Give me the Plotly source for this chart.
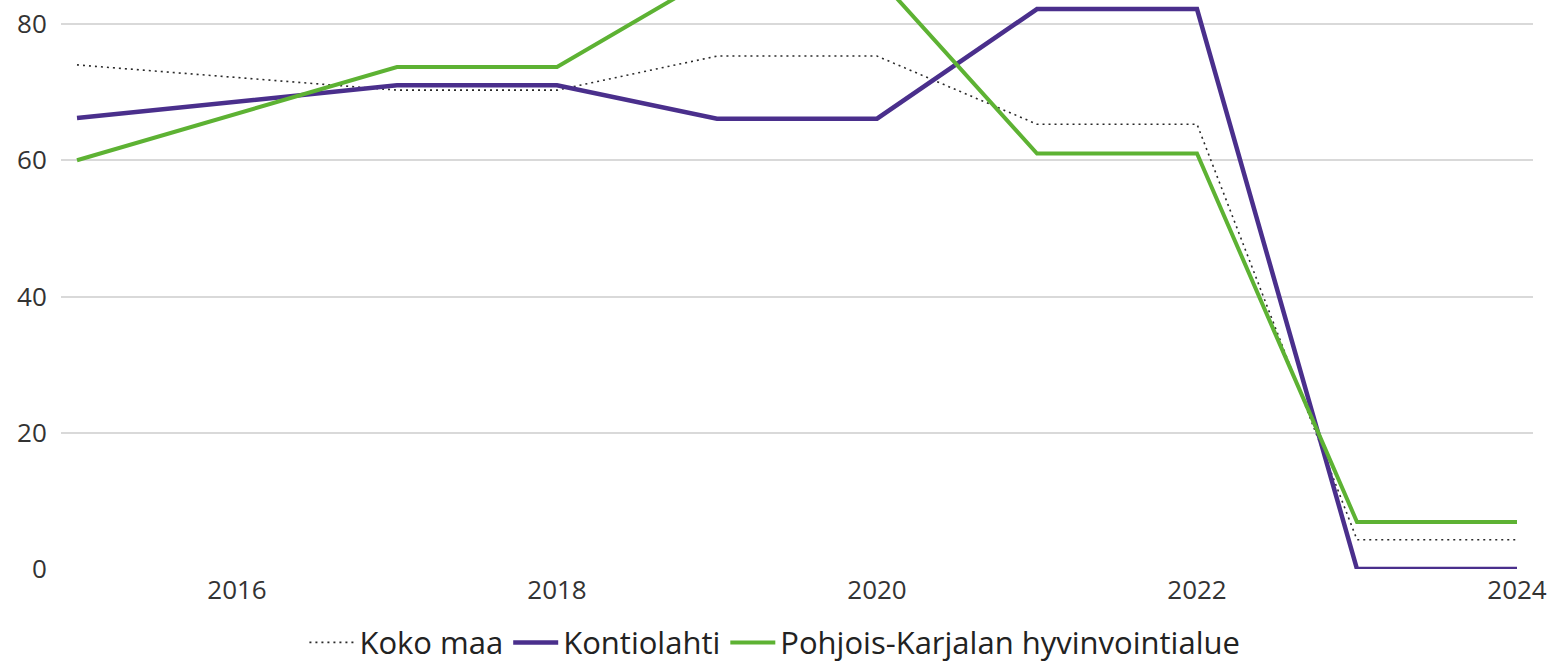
import plotly.graph_objects as go

years = [2015, 2016, 2017, 2018, 2019, 2020, 2021, 2022, 2023, 2024]
koko_maa = [74.0, 72.1, 70.3, 70.3, 75.3, 75.3, 65.3, 65.3, 4.3, 4.3]
kontiolahti = [66.2, 68.6, 71.0, 71.0, 66.1, 66.1, 82.2, 82.2, 0.0, 0.0]
pohjois_karjala = [60.0, 66.8, 73.7, 73.7, 87.4, 87.0, 61.0, 61.0, 6.9, 6.9]

names = ["Koko maa", "Kontiolahti", "Pohjois-Karjalan hyvinvointialue"]

fig = go.Figure()
fig.add_trace(go.Scatter(x=years, y=koko_maa, name=names[0], mode="lines",
                         line=dict(color="#2a2a2a", width=1.6, dash="2px,4px")))
fig.add_trace(go.Scatter(x=years, y=kontiolahti, name=names[1], mode="lines",
                         line=dict(color="#4A2F8C", width=4.5)))
fig.add_trace(go.Scatter(x=years, y=pohjois_karjala, name=names[2], mode="lines",
                         line=dict(color="#5DB233", width=4)))

font_family = "Open Sans, Noto Sans, DejaVu Sans, sans-serif"
fig.update_layout(
    width=1552, height=670,
    margin=dict(l=61, r=19, t=0, b=99),
    paper_bgcolor="white", plot_bgcolor="white",
    font=dict(family=font_family, color="#333333", size=26),
    showlegend=True,
    legend=dict(orientation="h", x=0.485, xanchor="center", y=-0.1296, yanchor="middle",
                font=dict(size=31, color="#222222"), tracegroupgap=0, itemwidth=45),
    xaxis=dict(range=[2014.9, 2024.1], tickmode="array", tickvals=[2016, 2018, 2020, 2022, 2024],
               showgrid=False, zeroline=False, showline=False, automargin=False,
               ticks="", ticklabelstandoff=3,
               tickfont=dict(size=26, color="#333333")),
    yaxis=dict(range=[0, 83.53], tickvals=[0, 20, 40, 60, 80],
               showgrid=True, gridcolor="#D9D9D9", gridwidth=1.5, zeroline=False,
               showline=False, automargin=False, ticks="outside", ticklen=8,
               tickcolor="rgba(0,0,0,0)",
               tickfont=dict(size=26, color="#333333")),
)

fig.write_html("out.html", config={"displayModeBar": False},
               post_script="document.body.style.margin='0';document.body.style.overflow='hidden';")
